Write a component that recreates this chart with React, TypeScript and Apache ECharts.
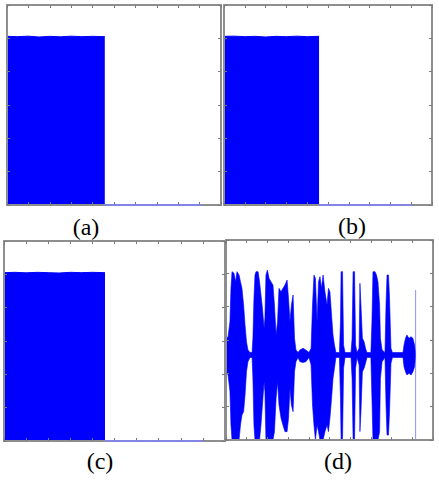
import { useEffect, useRef } from "react";
import * as echarts from "echarts";

// ---------- data ----------
const PANEL_LABELS = ["(a)", "(b)", "(c)", "(d)"];

// panels (a)-(c): active block (time units 0..10), normalised amplitude
const BLOCK_X = [0, 0.5, 1, 1.5, 2, 2.5, 3, 3.5, 4, 4.57];
const A_TOP = [1.012, 1.01, 1.013, 1.008, 1.012, 1.009, 1.013, 1.01, 1.012, 1.01];
const B_TOP = [1.012, 1.013, 1.01, 1.012, 1.008, 1.012, 1.01, 1.013, 1.01, 1.012];
const C_TOP = [1.01, 1.012, 1.009, 1.012, 1.01, 1.008, 1.012, 1.01, 1.012, 1.01];
// silent tail after the block (value 0)
const A_TAIL_X = [4.57, 9.1];
const B_TAIL_X = [4.57, 9.04];
const C_TAIL_X = [4.57, 9.0];
const TAIL_Y = [0, 0];

// panel (d): speech waveform envelope
const D_X = [
  0.0, 0.1, 0.19, 0.24, 0.29, 0.39, 0.46, 0.53, 0.63, 0.7, 0.77, 0.85, 0.92, 0.99, 1.06, 1.16, 1.26,
  1.3, 1.35, 1.4, 1.45, 1.55, 1.62, 1.69, 1.76, 1.84, 1.88, 1.93, 2.0, 2.08, 2.17, 2.27, 2.34, 2.42,
  2.49, 2.56, 2.66, 2.75, 2.85, 2.95, 3.02, 3.09, 3.16, 3.24, 3.31, 3.38, 3.48, 3.57, 3.72, 3.86,
  4.01, 4.11, 4.18, 4.25, 4.32, 4.4, 4.47, 4.54, 4.61, 4.69, 4.78, 4.88, 4.95, 5.02, 5.1, 5.17, 5.24,
  5.31, 5.48, 5.53, 5.56, 5.63, 5.68, 5.75, 6.04, 6.09, 6.14, 6.21, 6.26, 6.33, 6.43, 6.47, 6.52,
  6.59, 6.67, 6.74, 6.81, 7.0, 7.05, 7.1, 7.2, 7.27, 7.34, 7.42, 7.46, 7.54, 7.68, 7.73, 7.78, 7.85,
  7.9, 7.97, 8.04, 8.55, 8.6, 8.67, 8.74, 8.84, 8.94, 9.03, 9.11, 9.15,
];
const D_UPPER = [
  0.02, 0.04, 0.22, 0.62, 0.82, 0.8, 0.7, 0.82, 0.78, 0.7, 0.62, 0.42, 0.18, -0.02, -0.12, -0.15, -0.15,
  0.02, 0.5, 0.78, 0.82, 0.82, 0.7, 0.54, 0.38, 0.14, 0.26, 0.78, 0.84, 0.74, 0.7, 0.66, 0.42, 0.06,
  0.22, 0.62, 0.58, 0.62, 0.66, 0.72, 0.5, 0.22, 0.42, 0.54, 0.02, -0.12, -0.15, -0.12, -0.1, -0.12,
  -0.15, -0.1, 0.42, 0.78, 0.74, 0.22, 0.7, 0.76, 0.62, 0.78, 0.58, 0.42, 0.62, 0.58, 0.3, 0.06, -0.06,
  -0.15, -0.15, 0.22, 0.82, 0.82, -0.06, -0.15, -0.15, 0.02, 0.82, 0.82, -0.06, -0.15, -0.1, 0.68, 0.42,
  0.02, -0.02, -0.1, -0.15, -0.15, 0.22, 0.82, 0.82, 0.78, 0.7, 0.42, 0.02, -0.12, -0.15, 0.42, 0.78, 0.78,
  0.5, -0.1, -0.15, -0.15, -0.06, 0.02, 0.06, 0.02, 0.04, 0.02, -0.06, -0.15,
];
const D_LOWER = [
  -0.38, -0.42, -0.62, -1.02, -1.2, -1.2, -1.2, -1.2, -1.2, -1.02, -0.9, -0.86, -0.66, -0.38, -0.26, -0.21, -0.21,
  -0.46, -1.02, -1.2, -1.2, -1.2, -1.2, -1.02, -0.78, -0.5, -0.62, -1.2, -1.2, -1.2, -1.2, -1.2, -1.1, -0.7,
  -0.5, -0.78, -0.94, -1.02, -1.1, -1.1, -0.94, -0.58, -0.78, -0.86, -0.38, -0.26, -0.21, -0.26, -0.27, -0.26,
  -0.21, -0.3, -0.78, -1.02, -1.2, -1.02, -1.1, -1.2, -1.2, -1.2, -1.1, -1.02, -1.1, -0.94, -0.7, -0.46, -0.34,
  -0.21, -0.21, -0.7, -1.2, -1.2, -0.34, -0.21, -0.21, -0.46, -1.2, -1.2, -0.34, -0.21, -0.3, -1.1, -0.86,
  -0.38, -0.34, -0.28, -0.21, -0.21, -0.7, -1.2, -1.2, -1.2, -1.2, -1.1, -0.46, -0.26, -0.21, -0.78, -1.14, -1.14,
  -0.86, -0.28, -0.21, -0.21, -0.32, -0.38, -0.42, -0.4, -0.42, -0.38, -0.32, -0.21,
];
// thin marker line at the end of (d)
const D_MARK_X = [9.16, 9.16];
const D_MARK_Y = [0.6, -1.2];

// ---------- layout ----------
const GRIDS = [
  { left: 7, top: 5, width: 214, height: 200 },
  { left: 224, top: 5, width: 208, height: 200 },
  { left: 4, top: 241, width: 221, height: 200 },
  { left: 226, top: 240, width: 207, height: 200 },
];
const LABEL_POS = [
  [86, 227],
  [352, 226],
  [100, 461],
  [338, 461],
];
const Y_RANGES = [
  { min: 0, max: 1.2, interval: 0.2 },
  { min: 0, max: 1.2, interval: 0.2 },
  { min: 0, max: 1.2, interval: 0.2 },
  { min: -1.2, max: 1.2, interval: 0.4 },
];

const BORDER = "#8e8e8e";
const BLUE = "#0000ff";

function axisCommon() {
  return {
    axisLine: { show: true, onZero: false, lineStyle: { color: BORDER, width: 2 } },
    axisTick: { show: true, inside: true, length: 3, lineStyle: { color: "#7a7a7a", width: 1 } },
    axisLabel: { show: false },
    splitLine: { show: false },
    z: 5,
  };
}

export default function App() {
  const ref = useRef<HTMLDivElement>(null);

  useEffect(() => {
    if (!ref.current) return;
    const chart = echarts.init(ref.current, null, { renderer: "svg" });

    const xAxis: any[] = [];
    const yAxis: any[] = [];
    GRIDS.forEach((_, i) => {
      ["bottom", "top"].forEach((pos) =>
        xAxis.push({ type: "value", gridIndex: i, position: pos, min: 0, max: 10, interval: 1, ...axisCommon() })
      );
      ["left", "right"].forEach((pos) =>
        yAxis.push({ type: "value", gridIndex: i, position: pos, ...Y_RANGES[i], ...axisCommon() })
      );
    });

    const tops = [A_TOP, B_TOP, C_TOP];
    const tails = [A_TAIL_X, B_TAIL_X, C_TAIL_X];
    const series: any[] = [];
    tops.forEach((top, i) => {
      series.push({
        type: "line",
        xAxisIndex: 2 * i,
        yAxisIndex: 2 * i,
        data: BLOCK_X.map((x, k) => [x, top[k]]),
        symbol: "none",
        lineStyle: { color: BLUE, width: 1 },
        areaStyle: { color: BLUE, opacity: 1, origin: "start" },
        z: 2,
      });
      series.push({
        type: "line",
        xAxisIndex: 2 * i,
        yAxisIndex: 2 * i,
        data: tails[i].map((x, k) => [x, TAIL_Y[k]]),
        symbol: "none",
        clip: false,
        lineStyle: { color: "#8080ff", width: 1.5 },
        z: 10,
      });
    });

    series.push({
      type: "custom",
      xAxisIndex: 6,
      yAxisIndex: 6,
      data: [[0, 0]],
      clip: true,
      z: 2,
      renderItem: (_params: any, api: any) => {
        const pts: number[][] = [];
        D_X.forEach((x, k) => pts.push(api.coord([x, D_UPPER[k]])));
        for (let k = D_X.length - 1; k >= 0; k--) pts.push(api.coord([D_X[k], D_LOWER[k]]));
        return {
          type: "polygon",
          shape: { points: pts },
          style: { fill: BLUE, stroke: BLUE, lineWidth: 0.6 },
        };
      },
    });
    series.push({
      type: "line",
      xAxisIndex: 6,
      yAxisIndex: 6,
      data: D_MARK_X.map((x, k) => [x, D_MARK_Y[k]]),
      symbol: "none",
      lineStyle: { color: "rgba(70,70,255,0.6)", width: 1 },
      z: 3,
    });

    chart.setOption({
      animation: false,
      backgroundColor: "#ffffff",
      grid: GRIDS.map((g) => ({ ...g, show: false, containLabel: false })),
      xAxis,
      yAxis,
      series,
      graphic: PANEL_LABELS.map((t, i) => ({
        type: "text",
        x: LABEL_POS[i][0],
        y: LABEL_POS[i][1],
        style: {
          text: t,
          fontFamily: "Liberation Serif",
          fontSize: 24,
          fill: "#000",
          align: "center",
          verticalAlign: "middle",
        },
      })),
    });

    return () => chart.dispose();
  }, []);

  return (
    <div
      ref={ref}
      style={{ position: "absolute", left: 0, top: 0, width: 439, height: 480, background: "#fff" }}
    />
  );
}
